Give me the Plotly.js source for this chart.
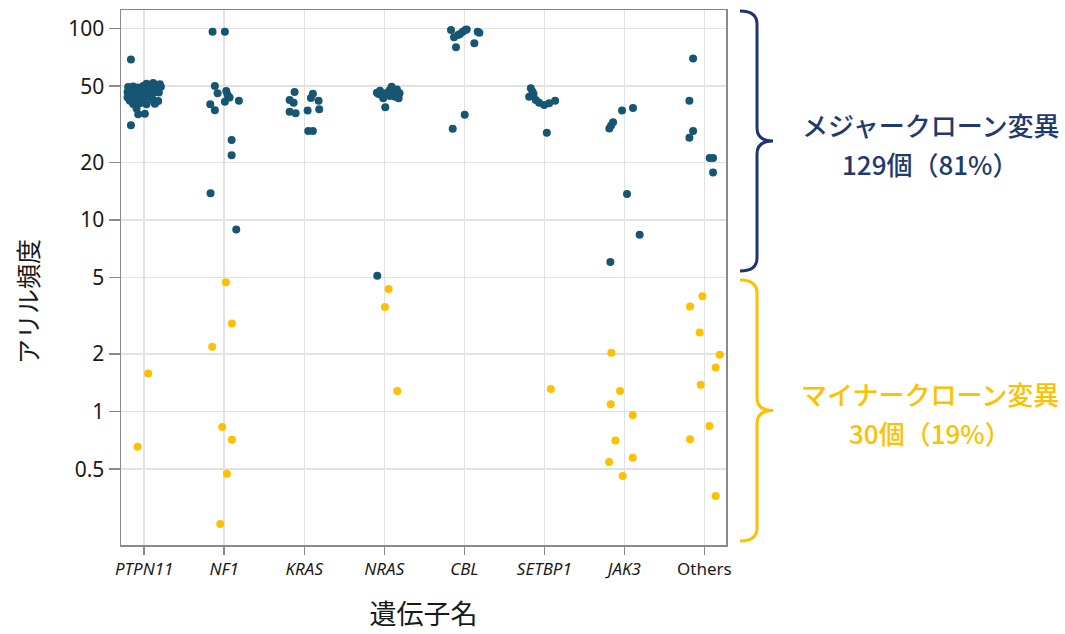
<!DOCTYPE html>
<html>
<head>
<meta charset="utf-8">
<script src="https://cdn.plot.ly/plotly-3.0.1.min.js"></script>
<style>html,body{margin:0;padding:0;background:#fff;}#chart{width:1065px;height:634px;}</style>
</head>
<body>
<div id="chart"></div>
<script>
// ---------- data ----------
const genes = ['PTPN11','NF1','KRAS','NRAS','CBL','SETBP1','JAK3','Others'];
const geneTickLabels = ['<i>PTPN11</i>','<i>NF1</i>','<i>KRAS</i>','<i>NRAS</i>','<i>CBL</i>','<i>SETBP1</i>','<i>JAK3</i>','Others'];
const yTickVals = [0.5, 1, 2, 5, 10, 20, 50, 100];
const yTickText = ['0.5','1','2','5','10','20','50','100'];
const xTitle = '遺伝子名';
const yTitle = 'アリル頻度';

// allele frequency (%) of major-clone variants, per gene (same order as genes)
const majorAF = [
  [69.0,31.3, 51.5,50.8,51.9,50.6,51.2, 49.6,49.9,49.2,50.1,49.4,49.0,49.7, 48.1,47.8,48.4,47.6,48.0,47.9,
   46.6,46.9,46.2,46.5,46.8,46.0,46.4, 45.1,44.8,45.4,44.9,45.2, 43.7,43.4,44.0,43.5,43.9,
   42.0,41.7,42.2,41.9, 40.4,40.7,40.2,40.5, 38.3, 35.7,35.9],
  [96.2,96.2,50.1,45.9,47.2,45.0,43.7,41.5,42.0,40.2,37.5,26.2,21.8,13.8,8.93],
  [46.6,42.3,41.0,36.8,36.1,45.7,43.4,42.0,37.3,37.9,29.2,29.2],
  [46.2,47.3,45.0,43.2,45.9,47.7,49.7,46.8,48.1,45.9,43.2,44.1,44.5,45.5,38.8,5.12],
  [98.2,90.0,93.6,96.2,98.2,96.2,95.1,83.7,79.8,35.5,30.0,92.5,99.0],
  [48.8,46.8,44.1,42.4,41.0,39.9,40.7,42.0,28.6,45.5],
  [37.3,38.5,32.4,31.2,30.1,13.7,8.37,6.04],
  [69.8,42.0,29.2,26.9,21.1,21.1,17.7]
];
// horizontal jitter of each major point (fraction of category spacing)
const majorJitter = [
  [-0.166,-0.166, 0.029,0.071,0.112,0.154,0.196, -0.2,-0.138,-0.075,-0.013,0.05,0.133,0.208,
   -0.179,-0.117,-0.054,0.008,0.092,0.167, -0.208,-0.15,-0.083,-0.025,0.042,0.112,0.183,
   -0.179,-0.117,-0.054,0.008,0.071, -0.208,-0.138,-0.075,-0.013,0.05,
   -0.179,-0.096,0.112,0.175, -0.138,-0.054,0.029,0.133, -0.096, -0.075,0.008],
  [-0.146,0.008,-0.117,-0.083,0.025,0.042,0.067,0.008,0.183,-0.175,-0.117,0.092,0.092,-0.171,0.15],
  [-0.121,-0.183,-0.133,-0.183,-0.108,0.108,0.083,0.179,0.042,0.187,0.05,0.108],
  [-0.092,-0.054,-0.033,-0.013,0.021,0.066,0.092,0.116,0.158,0.191,0.179,0.134,0.071,-0.071,0.0125,-0.0875],
  [-0.166,-0.129,-0.054,-0.02,0.0125,0.167,0.188,0.125,-0.104,0.005,-0.145,-0.079,0.03],
  [-0.169,-0.148,-0.19,-0.106,-0.065,-0.002,0.06,0.135,0.031,-0.135],
  [-0.029,0.108,-0.141,-0.166,-0.1875,0.033,0.191,-0.175],
  [-0.141,-0.1875,-0.141,-0.1875,0.066,0.108,0.108]
];
// allele frequency (%) of minor-clone variants, per gene
const minorAF = [
  [1.58,0.655],
  [4.73,2.88,2.18,0.83,0.713,0.473,0.259],
  [],
  [4.36,3.52,1.28],
  [],
  [1.31],
  [2.03,1.28,1.09,0.96,0.705,0.545,0.574,0.46],
  [4.0,3.54,2.59,1.98,1.70,1.38,0.84,0.716,0.362]
];
const minorJitter = [
  [0.05,-0.083],
  [0.021,0.096,-0.15,-0.025,0.096,0.033,-0.05],
  [],
  [0.054,0.008,0.1625],
  [],
  [0.081],
  [-0.1625,-0.054,-0.171,0.104,-0.1125,-0.191,0.104,-0.021],
  [-0.025,-0.179,-0.059,0.191,0.141,-0.046,0.0625,-0.179,0.141]
];
const majorLabel = ['メジャークローン変異', '129個（81%）'];
const minorLabel = ['マイナークローン変異', '30個（19%）'];

// ---------- build traces ----------
function flatten(af, jit) {
  const xs = [], ys = [], names = [];
  af.forEach((vals, gi) => {
    vals.forEach((v, k) => { xs.push(gi + jit[gi][k]); ys.push(v); names.push(genes[gi]); });
  });
  return {xs, ys, names};
}
const M = flatten(majorAF, majorJitter);
const m = flatten(minorAF, minorJitter);

const MAJOR_COLOR = '#175673';
const MINOR_COLOR = '#FFC000';
const NAVY = '#1F3A6E';
const JP = '"Noto Sans CJK JP", "Noto Sans", sans-serif';

const traces = [
  {type:'scatter', mode:'markers', x:M.xs, y:M.ys, text:M.names, name:'major',
   marker:{color:MAJOR_COLOR, size:8, line:{width:0}}, hovertemplate:'%{text}: %{y}<extra></extra>'},
  {type:'scatter', mode:'markers', x:m.xs, y:m.ys, text:m.names, name:'minor',
   marker:{color:MINOR_COLOR, size:8, line:{width:0}}, hovertemplate:'%{text}: %{y}<extra></extra>'}
];

// ---------- decorations (braces) in paper coordinates ----------
const L = 121, R = 726, T = 10, B = 545;
const px = x => (x - L) / (R - L);
const py = y => (B - y) / (B - T);
function brace(top, bot) {
  const mid = (top + bot) / 2;
  const x0 = 740, x1 = 757, xt = 773, r = 13;
  const P = (x, y) => px(x).toFixed(5) + ',' + py(y).toFixed(5);
  return 'M' + P(x0, top) + ' Q' + P(x1, top) + ' ' + P(x1, top + r) +
         ' L' + P(x1, mid - r) + ' Q' + P(x1, mid) + ' ' + P(xt, mid) +
         ' Q' + P(x1, mid) + ' ' + P(x1, mid + r) +
         ' L' + P(x1, bot - r) + ' Q' + P(x1, bot) + ' ' + P(x0, bot);
}
function label(text, yPix, color) {
  return {xref:'paper', yref:'paper', x:px(930), y:py(yPix), xanchor:'center', yanchor:'middle',
          showarrow:false, borderpad:0, text:text, font:{family:JP, size:26, weight:500, color:color}};
}

const layout = {
  width:1065, height:634,
  margin:{l:L, r:1065 - R, t:T, b:634 - B, pad:0},
  paper_bgcolor:'#fff', plot_bgcolor:'#fff',
  showlegend:false,
  font:{family:JP, color:'#222'},
  xaxis:{
    range:[-0.29, 7.27], tickmode:'array', tickvals:genes.map((g,i)=>i), ticktext:geneTickLabels,
    showgrid:true, gridcolor:'#e2e2e2', gridwidth:1.5, zeroline:false,
    ticks:'outside', ticklen:8, tickwidth:1.5, tickcolor:'#8a8a8a',
    showline:true, linecolor:'#8a8a8a', linewidth:1.5, mirror:true,
    tickfont:{family:'"Noto Sans", sans-serif', size:17, color:'#1a1a1a'},
    title:{text:xTitle, font:{family:JP, size:27, color:'#1a1a1a'}, standoff:26}
  },
  yaxis:{
    type:'log', range:[-0.697, 2.097], tickmode:'array', tickvals:yTickVals, ticktext:yTickText,
    showgrid:true, gridcolor:'#e2e2e2', gridwidth:1.5, zeroline:false,
    ticks:'outside', ticklen:11, tickwidth:1.5, tickcolor:'#8a8a8a',
    showline:true, linecolor:'#8a8a8a', linewidth:1.5, mirror:true,
    tickfont:{family:'"Noto Sans", sans-serif', size:21, color:'#1a1a1a'}
  },
  shapes:[
    {type:'path', xref:'paper', yref:'paper', path:brace(11, 271), line:{color:'#1F3470', width:3}},
    {type:'path', xref:'paper', yref:'paper', path:brace(280, 541), line:{color:MINOR_COLOR, width:3}}
  ],
  annotations:[
    {xref:'paper', yref:'paper', x:px(27), y:py(302), xanchor:'center', yanchor:'middle', showarrow:false,
     textangle:-90, text:yTitle, font:{family:JP, size:25, color:'#1a1a1a'}},
    label(majorLabel[0], 124, NAVY),
    label(majorLabel[1], 163, NAVY),
    label(minorLabel[0], 394, MINOR_COLOR),
    label(minorLabel[1], 433, MINOR_COLOR)
  ]
};

Plotly.newPlot('chart', traces, layout, {displayModeBar:false, staticPlot:true});
</script>
</body>
</html>
